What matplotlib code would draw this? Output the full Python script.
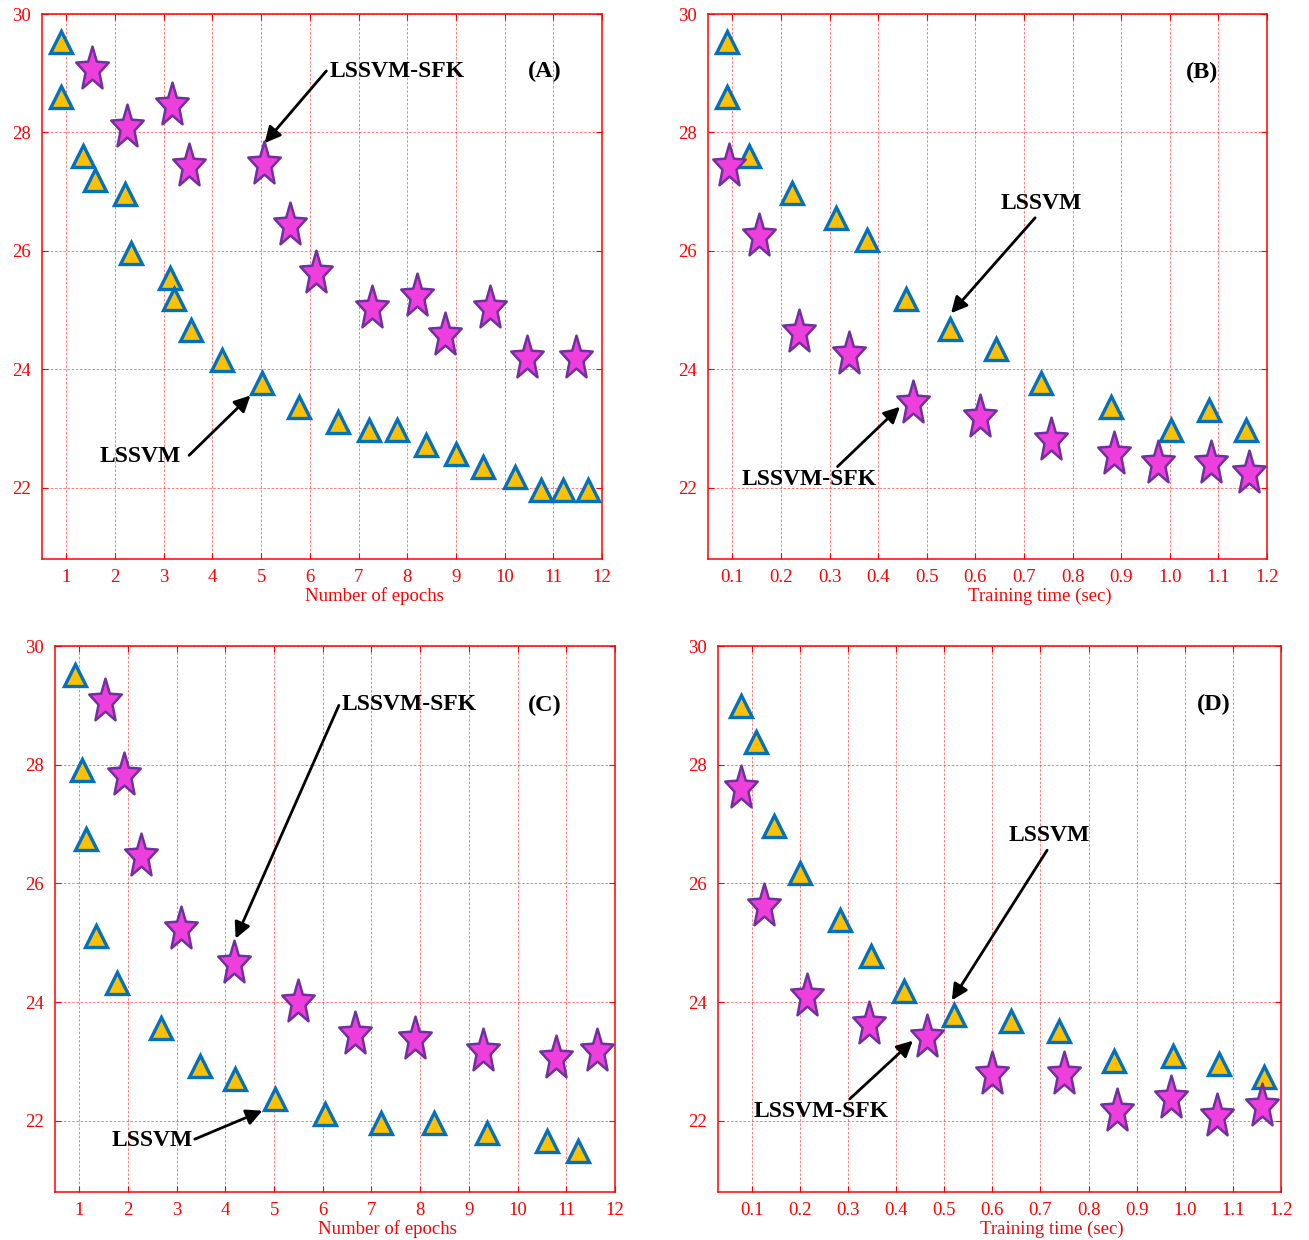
import numpy as np
import matplotlib
matplotlib.use("Agg")
import matplotlib.pyplot as plt
from matplotlib.path import Path

plt.rcParams['font.family'] = ['Liberation Serif', 'DejaVu Serif']

# (A) error vs number of epochs
a_tri_x = [0.90, 0.90, 1.34, 1.58, 2.21, 2.33, 3.12, 3.21, 3.55, 4.20, 5.02, 5.78, 6.57,
           7.21, 7.78, 8.39, 9.01, 9.55, 10.21, 10.75, 11.20, 11.71]
a_tri_y = [29.53, 28.60, 27.61, 27.19, 26.96, 25.97, 25.55, 25.19, 24.67, 24.16, 23.77, 23.37,
           23.12, 22.98, 22.98, 22.72, 22.58, 22.36, 22.19, 21.96, 21.96, 21.96]
a_star_x = [1.53, 2.25, 3.17, 3.52, 5.05, 5.60, 6.13, 7.27, 8.21, 8.78, 9.69, 10.46, 11.46]
a_star_y = [29.11, 28.12, 28.49, 27.47, 27.51, 26.48, 25.66, 25.07, 25.27, 24.62, 25.07, 24.22, 24.22]

# (B) error vs training time
b_tri_x = [0.090, 0.090, 0.134, 0.223, 0.313, 0.378, 0.458, 0.548, 0.643, 0.736, 0.880, 1.002, 1.080, 1.156]
b_tri_y = [29.53, 28.60, 27.61, 26.97, 26.56, 26.18, 25.19, 24.69, 24.34, 23.77, 23.37, 22.98, 23.32, 22.98]
b_star_x = [0.094, 0.154, 0.237, 0.339, 0.472, 0.609, 0.756, 0.885, 0.976, 1.084, 1.163]
b_star_y = [27.47, 26.28, 24.67, 24.29, 23.47, 23.23, 22.84, 22.61, 22.45, 22.45, 22.28]

# (C) error vs number of epochs
c_tri_x = [0.91, 1.05, 1.14, 1.34, 1.78, 2.67, 3.48, 4.20, 5.02, 6.05, 7.19, 8.28, 9.38, 10.61, 11.25]
c_tri_y = [29.51, 27.91, 26.75, 25.12, 24.33, 23.56, 22.93, 22.70, 22.37, 22.12, 21.97, 21.97, 21.80, 21.66, 21.49]
c_star_x = [1.53, 1.92, 2.27, 3.08, 4.17, 5.50, 6.66, 7.90, 9.30, 10.78, 11.63]
c_star_y = [29.10, 27.86, 26.49, 25.26, 24.69, 24.04, 23.49, 23.42, 23.21, 23.10, 23.21]

# (D) error vs training time
d_tri_x = [0.078, 0.109, 0.146, 0.200, 0.284, 0.348, 0.417, 0.520, 0.639, 0.739, 0.853, 0.976, 1.071, 1.165]
d_tri_y = [28.99, 28.38, 26.96, 26.17, 25.39, 24.78, 24.19, 23.79, 23.69, 23.52, 23.00, 23.10, 22.95, 22.74]
d_star_x = [0.078, 0.126, 0.215, 0.344, 0.464, 0.599, 0.749, 0.859, 0.971, 1.067, 1.160]
d_star_y = [27.65, 25.66, 24.14, 23.67, 23.45, 22.83, 22.83, 22.20, 22.42, 22.12, 22.29]

epoch_ticks = list(range(1, 13))
time_ticks = [0.1, 0.2, 0.3, 0.4, 0.5, 0.6, 0.7, 0.8, 0.9, 1.0, 1.1, 1.2]
y_ticks = [22, 24, 26, 28, 30]

RED = '#ff0000'
TRI_FACE, TRI_EDGE = '#ffc000', '#0070c0'
STAR_FACE, STAR_EDGE = '#ee3fdc', '#7030a0'


def tall_star(stretch=1.35, inner=0.43):
    # five-pointed star, stretched vertically, centred on its bounding box
    ang = np.pi / 2 + np.arange(10) * np.pi / 5
    r = np.where(np.arange(10) % 2 == 0, 1.0, inner)
    xs = r * np.cos(ang)
    ys = r * np.sin(ang) * stretch
    ys = ys - (ys.max() + ys.min()) / 2
    verts = np.column_stack([xs, ys])
    verts = np.vstack([verts, verts[:1]])
    codes = [Path.MOVETO] + [Path.LINETO] * 9 + [Path.CLOSEPOLY]
    return Path(verts, codes)


STAR = tall_star()


def panel(rect, tri_x, tri_y, star_x, star_y, xlim, xticks, xfmt, xlabel, tag, notes):
    ax = fig.add_axes(rect)
    ax.plot(tri_x, tri_y, ls='none', marker='^', ms=16.5, mfc=TRI_FACE, mec=TRI_EDGE,
            mew=2.4, zorder=3, clip_on=False)
    ax.plot(star_x, star_y, ls='none', marker=STAR, ms=30, mfc=STAR_FACE, mec=STAR_EDGE,
            mew=1.8, zorder=4, clip_on=False)

    ax.set_xlim(*xlim)
    ax.set_ylim(20.8, 30)
    ax.set_xticks(xticks)
    ax.set_xticklabels([xfmt.format(v) for v in xticks])
    ax.set_yticks(y_ticks)
    ax.grid(True, color=RED, ls=(0, (3, 2)), lw=0.6, alpha=0.6)
    ax.set_axisbelow(True)
    for s in ax.spines.values():
        s.set_color(RED)
        s.set_linewidth(1.1)
    ax.tick_params(direction='in', length=4, color=RED, labelcolor=RED, labelsize=13.5,
                   top=True, right=True)
    ax.tick_params(axis='x', pad=7)
    ax.tick_params(axis='y', pad=8)
    ax.set_xlabel(xlabel, color=RED, fontsize=13.5, va='center')
    ax.xaxis.set_label_coords(0.593, -0.068)

    ax.text(tag[0], tag[1], tag[2], fontsize=17.5, fontweight='bold', ha='center', va='center')
    for label, txt_xy, ha, tail, tip in notes:
        ax.text(txt_xy[0], txt_xy[1], label, fontsize=17, fontweight='bold', ha=ha, va='center')
        ax.annotate('', xy=tip, xytext=tail,
                    arrowprops=dict(arrowstyle='-|>', color='black', lw=2.0,
                                    mutation_scale=24, shrinkA=0, shrinkB=0))
    return ax


fig = plt.figure(figsize=(13.09, 12.40), dpi=100)

panel([0.0321, 0.5492, 0.4278, 0.4395], a_tri_x, a_tri_y, a_star_x, a_star_y,
      (0.5, 12), epoch_ticks, '{:d}', 'Number of epochs', (10.82, 29.03, '(A)'),
      [('LSSVM-SFK', (6.40, 29.03), 'left', (6.34, 29.04), (5.07, 27.82)),
       ('LSSVM', (3.35, 22.53), 'right', (3.52, 22.55), (4.78, 23.56))])

panel([0.5409, 0.5492, 0.4270, 0.4395], b_tri_x, b_tri_y, b_star_x, b_star_y,
      (0.05, 1.2), time_ticks, '{:.1f}', 'Training time (sec)', (1.067, 29.02, '(B)'),
      [('LSSVM', (0.651, 26.80), 'left', (0.723, 26.56), (0.550, 24.95)),
       ('LSSVM-SFK', (0.1185, 22.14), 'left', (0.3165, 22.36), (0.445, 23.37))])

panel([0.0420, 0.0387, 0.4278, 0.4403], c_tri_x, c_tri_y, c_star_x, c_star_y,
      (0.5, 12), epoch_ticks, '{:d}', 'Number of epochs', (10.56, 29.00, '(C)'),
      [('LSSVM-SFK', (6.38, 29.02), 'left', (6.33, 29.00), (4.21, 25.07)),
       ('LSSVM', (3.33, 21.66), 'right', (3.37, 21.69), (4.76, 22.17))])

panel([0.5485, 0.0387, 0.4301, 0.4403], d_tri_x, d_tri_y, d_star_x, d_star_y,
      (0.03, 1.2), time_ticks, '{:.1f}', 'Training time (sec)', (1.061, 29.02, '(D)'),
      [('LSSVM', (0.633, 26.81), 'left', (0.714, 26.56), (0.516, 24.03)),
       ('LSSVM-SFK', (0.105, 22.15), 'left', (0.304, 22.37), (0.435, 23.35))])

fig.savefig('out.png', dpi=100)
